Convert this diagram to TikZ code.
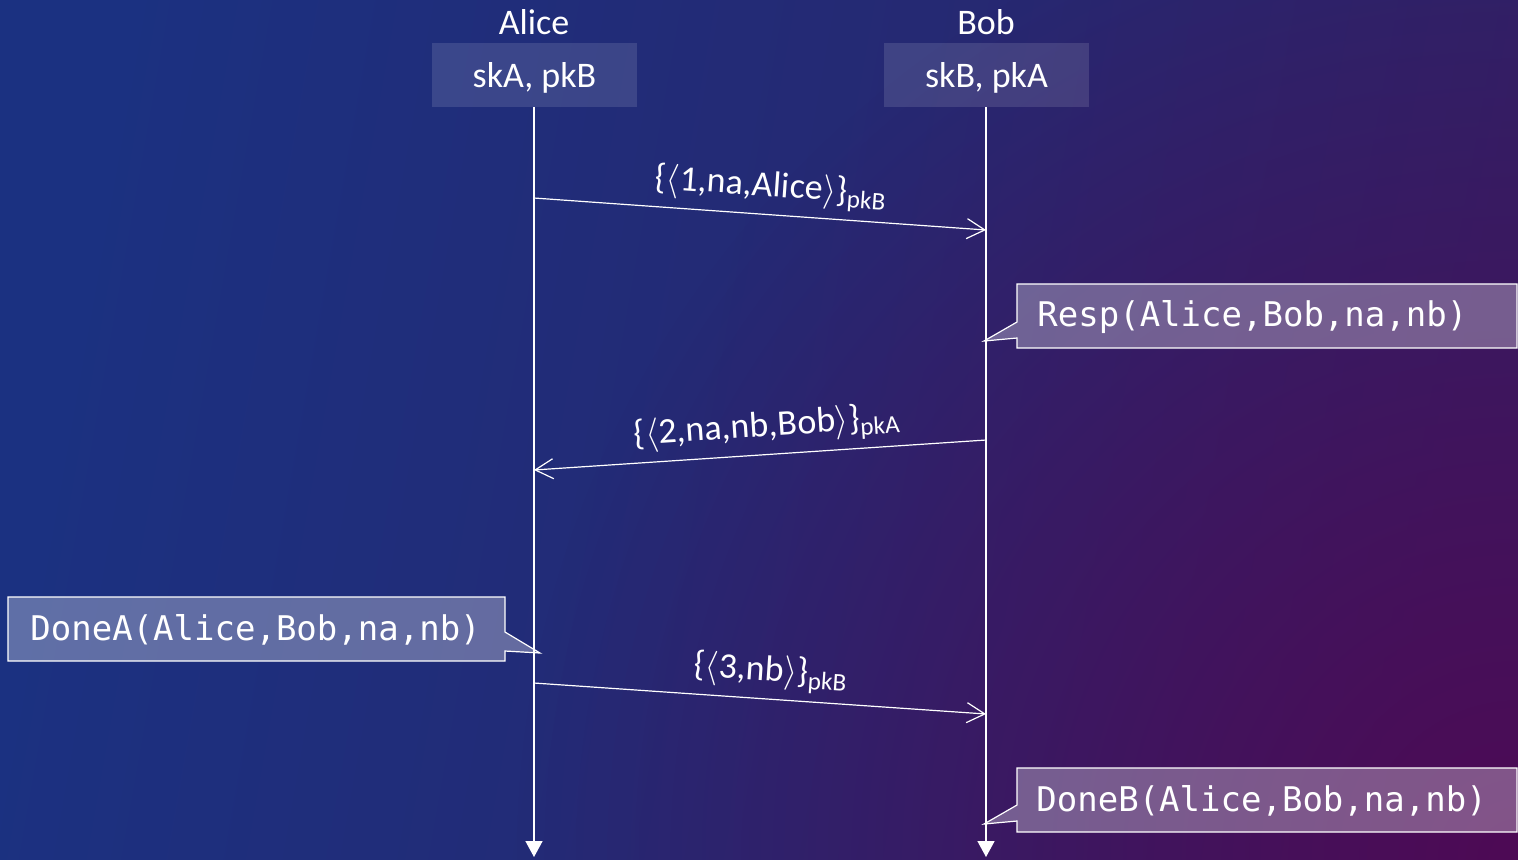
\documentclass[tikz,border=0pt]{standalone}
\usepackage{fontspec}
\setmainfont{Carlito}
\newfontfamily\monof{DejaVu Sans Mono}
\usetikzlibrary{arrows.meta,calc,fadings}
\definecolor{bgA}{HTML}{1B3181}
\definecolor{bgM}{HTML}{2B2469}
\definecolor{bgC}{HTML}{2D2368}
\definecolor{bgB}{HTML}{4E0A55}
\tikzfading[name=cornerfade, inner color=transparent!0, outer color=transparent!100]
\newcommand{\enc}[2]{\{$\langle$#1$\rangle$\}\textsubscript{#2}}
\begin{document}
\begin{tikzpicture}[x=0.5pt,y=-0.5pt,
  hdr/.style={text=white,font=\fontsize{18}{20}\selectfont,inner sep=0},
  keybox/.style={fill=white,fill opacity=0.12,minimum width=102.5pt,minimum height=32pt,inner sep=0},
  life/.style={draw=white,line width=0.75pt,-{Triangle[width=8.5pt,length=8pt]}},
  msg/.style={draw=white,line width=0.6pt,-{Straight Barb[length=9pt,width=10pt,line width=0.6pt]}},
  lbl/.style={text=white,font=\fontsize{18}{20}\selectfont,sloped,above,inner sep=4pt},
  callout/.style={draw=white,line width=0.6pt,fill=white,fill opacity=0.3},
  ctext/.style={text=white,font=\monof\fontsize{17}{20}\selectfont,anchor=west,inner sep=0}
]
% background
\shade[top color=bgA, middle color=bgM, bottom color=bgC, shading angle=80] (0,0) rectangle (1518,859);
\begin{scope}
\clip (0,0) rectangle (1518,859);
\fill[bgB, path fading=cornerfade] (1518,859) circle (1000);
\end{scope}
\useasboundingbox (0,0) rectangle (1518,859);

% headers
\node[hdr] (alice) at (534,22) {Alice};
\node[hdr] (bob) at (986,22) {Bob};
\node[keybox] (ka) at (534.5,75) {};
\node[keybox] (kb) at (986.5,75) {};
\node[hdr] (kat) at ([yshift=-1.5pt]ka.center) {skA, pkB};
\node[hdr] (kbt) at ([yshift=-1.5pt]kb.center) {skB, pkA};

% lifelines
\coordinate (atop) at (534,107);
\coordinate (btop) at (986,107);
\coordinate (aend) at (534,857);
\coordinate (bend) at (986,857);
\draw[life] (atop) -- (aend);
\draw[life] (btop) -- (bend);

% callouts
\filldraw[callout] (1017,284) -- (1517,284) -- (1517,348) -- (1017,348) -- (1017,338) -- (984,341) -- (1017,322) -- cycle;
\node[ctext] (resp) at (1037,317) {Resp(Alice,Bob,na,nb)};
\filldraw[callout] (8,597) -- (505,597) -- (505,632) -- (540,653) -- (505,651) -- (505,661) -- (8,661) -- cycle;
\node[ctext] (donea) at (30,630) {DoneA(Alice,Bob,na,nb)};
\filldraw[callout] (1017,768) -- (1517,768) -- (1517,832) -- (1017,832) -- (1017,821) -- (984,824) -- (1017,805) -- cycle;
\node[ctext] (doneb) at (1036,801) {DoneB(Alice,Bob,na,nb)};

% messages
\coordinate (m1s) at (534,198);
\coordinate (m1e) at (986,230);
\coordinate (m2s) at (986,440);
\coordinate (m2e) at (534,470);
\coordinate (m3s) at (534,683);
\coordinate (m3e) at (986,714);
\draw[msg] (m1s) -- node[lbl,pos=0.52] (l1) {\enc{1,na,Alice}{pkB}} (m1e);
\draw[msg] (m2s) -- node[lbl,pos=0.48] (l2) {\enc{2,na,nb,Bob}{pkA}} (m2e);
\draw[msg] (m3s) -- node[lbl,pos=0.52] (l3) {\enc{3,nb}{pkB}} (m3e);
\end{tikzpicture}
\end{document}
